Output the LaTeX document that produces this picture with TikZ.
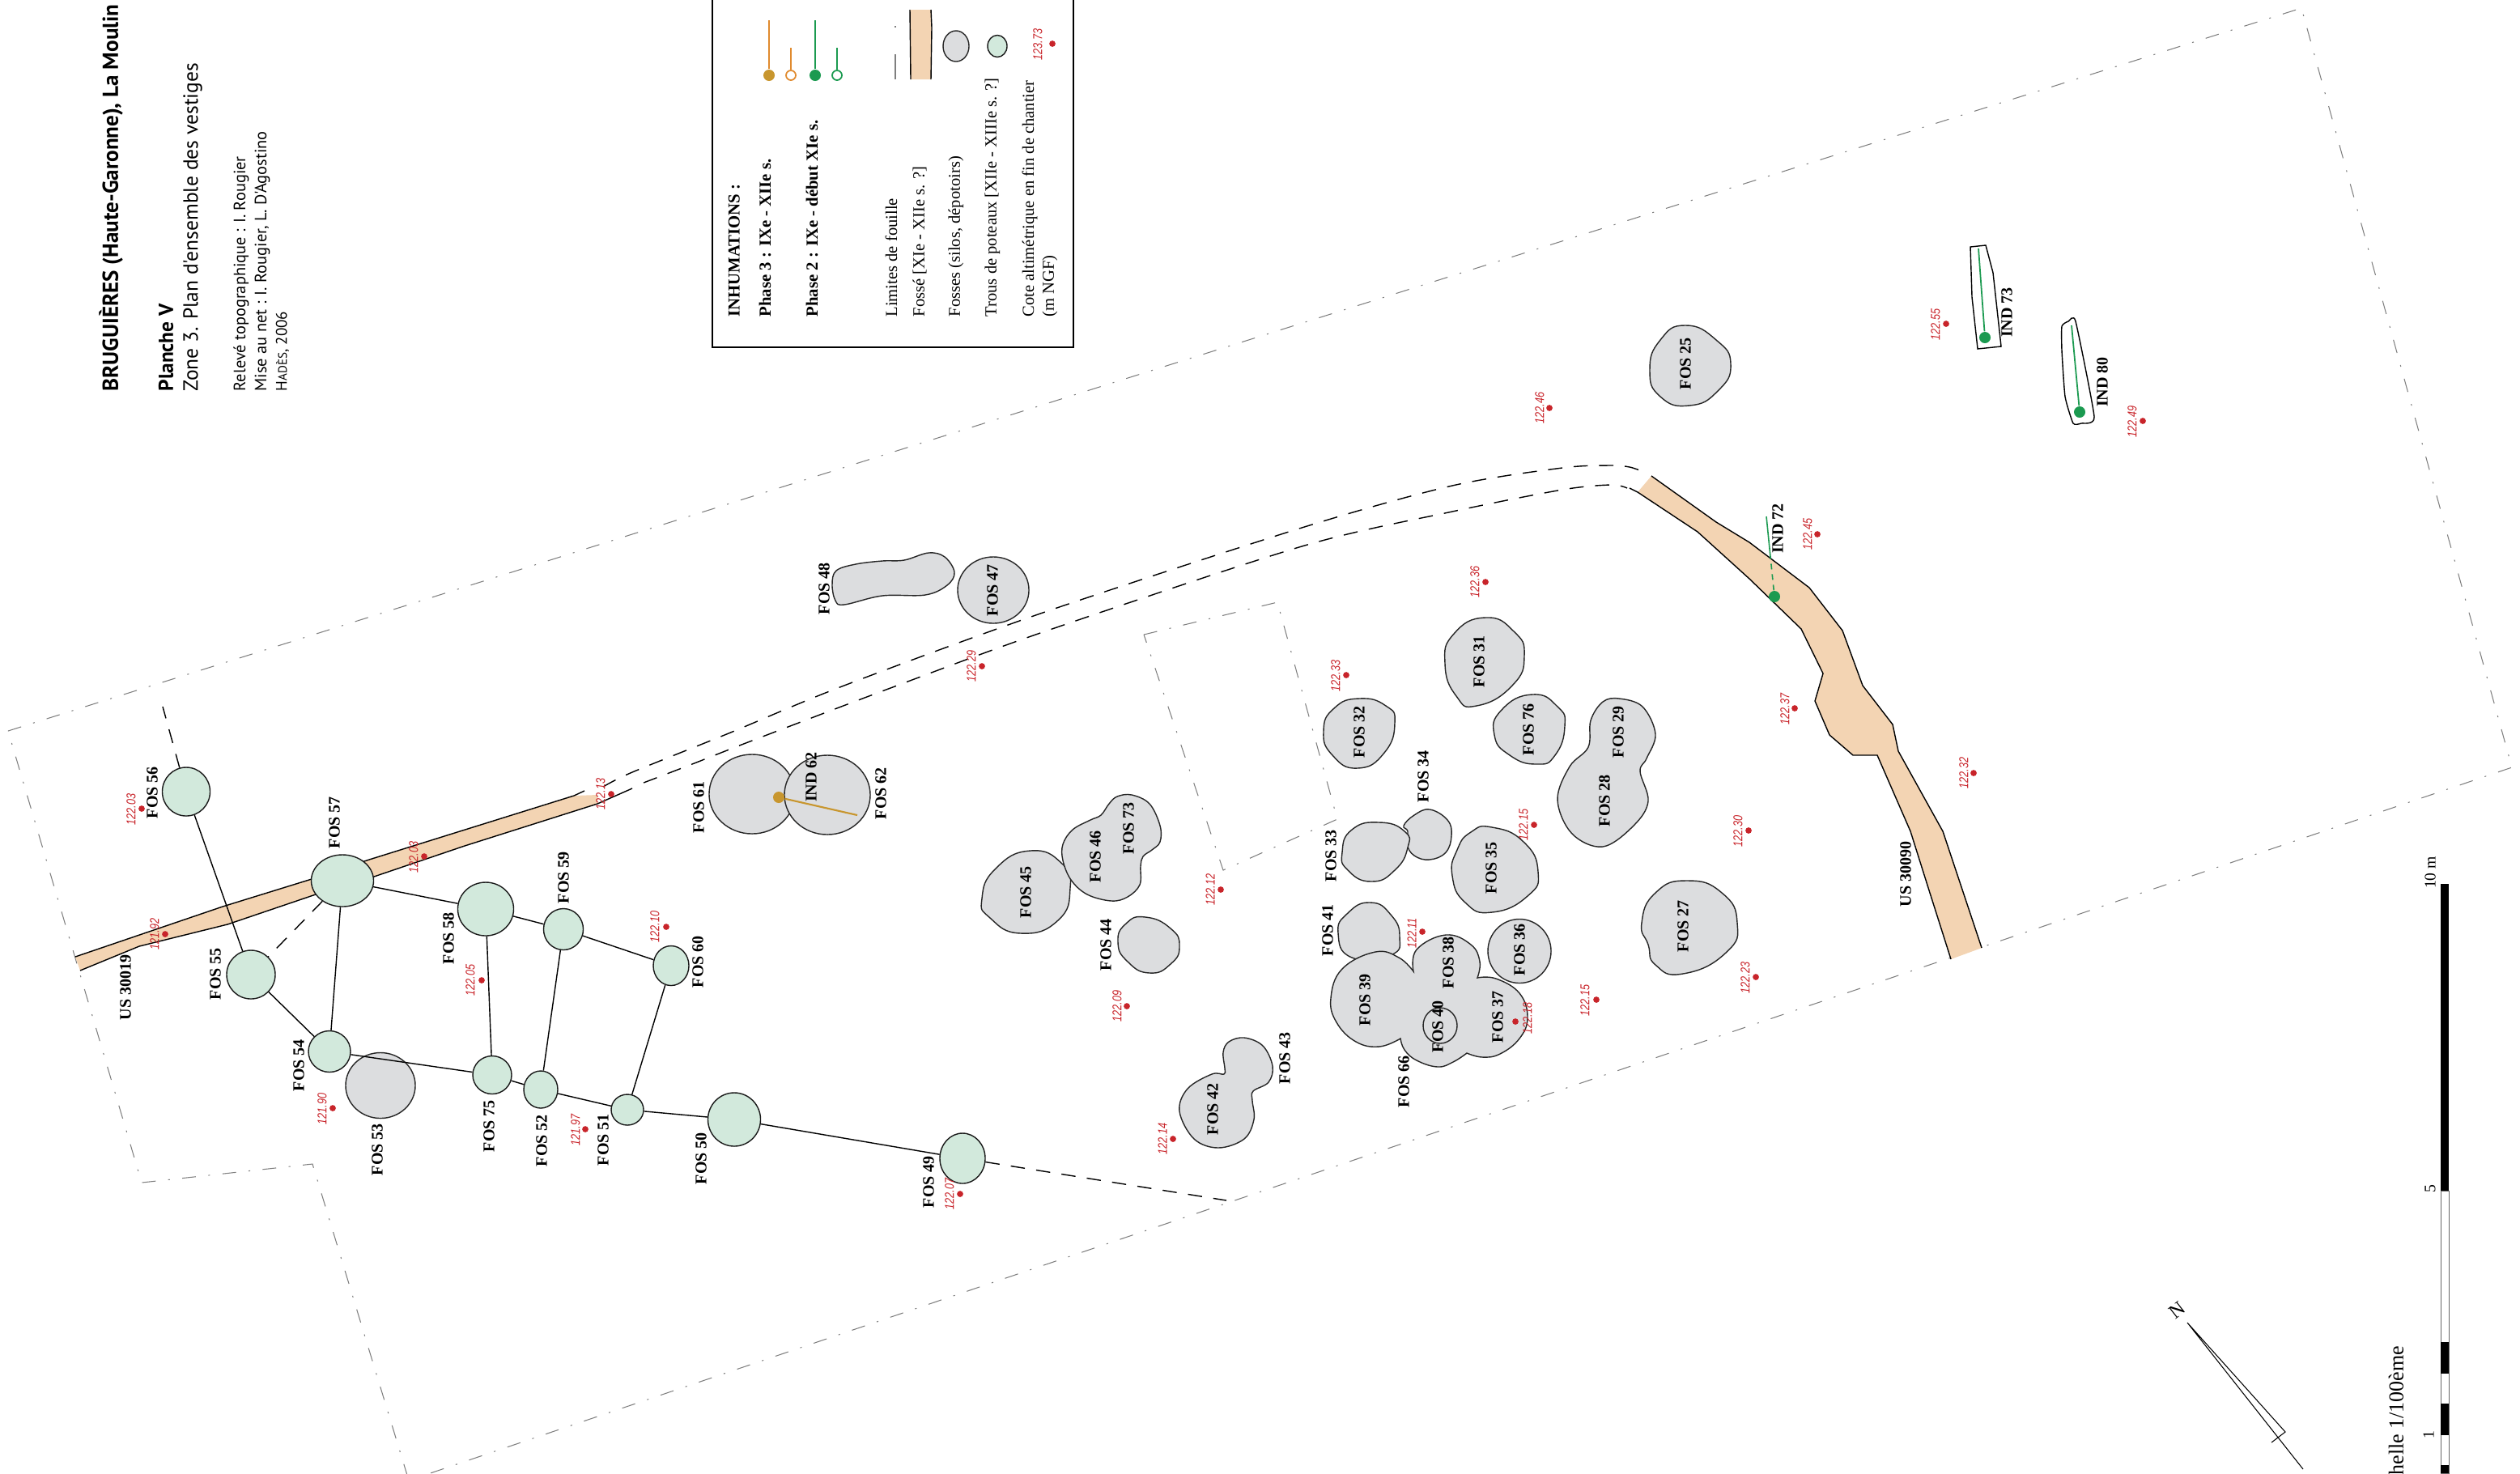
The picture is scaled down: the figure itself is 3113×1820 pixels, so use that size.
\documentclass[tikz,border=0pt]{standalone}
\usepackage{fontspec}
\setmainfont{Liberation Serif}
\newfontfamily\titlefont{PT Sans}
\newfontfamily\cotefont[FakeStretch=.8]{Liberation Sans}
\usepackage{tikz}
\usetikzlibrary{shapes.geometric}
\definecolor{pitgrey}{HTML}{DCDDDF}
\definecolor{postgreen}{HTML}{D2E9DC}
\definecolor{ditchtan}{HTML}{F3D4B3}
\definecolor{limgrey}{HTML}{7F7F7F}
\definecolor{cotered}{HTML}{C8242A}
\definecolor{phasegreen}{HTML}{1B9A50}
\definecolor{phasebrown}{HTML}{C8962E}
\definecolor{phaseorange}{HTML}{E08A2E}
\tikzset{pit/.style={draw=black!85,fill=pitgrey,line width=.4pt,tension=.9},
	post/.style={ellipse,draw=black!90,fill=postgreen,line width=.4pt,inner sep=0pt},
	pitnode/.style={ellipse,draw=black!85,fill=pitgrey,line width=.4pt,inner sep=0pt},
	trace/.style={draw=black,line width=.4pt},
	longdash/.style={draw=black,line width=.4pt,dash pattern=on 5pt off 4pt},
	limite/.style={draw=limgrey,line width=.3pt,dash pattern=on 4.8pt off 4.4pt on .6pt off 4.4pt},
	fosname/.style={rotate=90,inner sep=0pt,font=\fontsize{5.7}{6}\selectfont\bfseries},
	cotept/.style={circle,fill=cotered,inner sep=0pt,minimum size=2.2pt},
	cotetxt/.style={rotate=90,inner sep=0pt,text=cotered,font=\fontsize{4.5}{5}\selectfont\cotefont\itshape},
	legtxt/.style={rotate=90,anchor=west,inner sep=0pt,font=\fontsize{5.85}{6}\selectfont},
	legbold/.style={rotate=90,anchor=west,inner sep=0pt,font=\fontsize{5.9}{6}\selectfont\bfseries},
	headtxt/.style={rotate=90,anchor=west,inner sep=0pt,font=\titlefont}}

\begin{document}
\begin{tikzpicture}[x=0.01cm,y=-0.01cm]
		\useasboundingbox (0,0) rectangle (3113,1820);
		\clip (0,0) rectangle (3113,1820);
		% limites de fouille
		\draw [limite] (10,903) -- (2843,10) -- (3103,948) -- (505,1829) -- (386,1438) -- (175,1461) -- cycle;
		\draw [limite] (1413,784) -- (1578,744) -- (1652,1012) -- (1511,1075) -- cycle;
		% fosses
		\fill [ditchtan] (93,1182) -- (275,1120) -- (385,1086) -- (456,1062) -- (709,983) -- (738,982) -- (738,993) -- (574,1045) -- (462,1083) -- (390,1105) -- (281,1142) -- (172,1169) -- (99,1199) -- cycle;
		\draw [trace] (93,1182) -- (275,1120) -- (385,1086) -- (456,1062) -- (709,983) -- (722,977);
		\draw [trace] (99,1199) -- (172,1169) -- (281,1142) -- (390,1105) -- (462,1083) -- (574,1045) -- (738,993) -- (781,974);
		\draw [longdash] plot[smooth] coordinates {(745,972) (781,954) (900,906) (1040,848) (1288,757) (1608,652) (1794,600) (1930,578) (1990,575) (2013,577) (2028,582)};
		\draw [longdash] plot[smooth] coordinates {(795,967) (855,944) (929,915) (1100,850) (1288,781) (1608,675) (1794,632) (1930,605) (1990,599) (2010,603)};
		\fill [ditchtan] (2040,588) -- (2120,645) -- (2161,670) -- (2235,726) -- (2276,779) -- (2301,847) -- (2338,895) -- (2345,928) -- (2400,1027) -- (2448,1171) -- (2410,1185) -- (2383,1100) -- (2360,1027) -- (2319,933) -- (2289,933) -- (2260,908) -- (2242,866) -- (2252,832) -- (2225,777) -- (2161,715) -- (2097,657) -- (2023,608) -- cycle;
		\draw [trace] (2040,588) -- (2120,645) -- (2161,670) -- (2235,726) -- (2276,779) -- (2301,847) -- (2338,895) -- (2345,928) -- (2400,1027) -- (2448,1171);
		\draw [trace] (2013,603) -- (2023,608) -- (2097,657) -- (2161,715) -- (2225,777) -- (2252,832) -- (2242,866) -- (2260,908) -- (2289,933) -- (2319,933) -- (2360,1027) -- (2383,1100) -- (2410,1185);
		% fosses (silos)
		\draw [pit] plot[smooth cycle,tension=.6] coordinates {(1033,705) (1057,697) (1090,693) (1117,692) (1147,683) (1167,688) (1179,707) (1170,723) (1143,735) (1090,736) (1043,747) (1032,742) (1028,722)};
		\draw [pit] plot[smooth cycle] coordinates {(1273,1051) (1312,1067) (1322,1097) (1307,1137) (1261,1153) (1223,1134) (1213,1110) (1230,1073)};
		\draw [pit] plot[smooth cycle] coordinates {(1415,1133) (1446,1147) (1457,1169) (1446,1191) (1420,1202) (1393,1188) (1381,1164) (1391,1141)};
		\draw [pit] plot[smooth cycle,tension=.6] coordinates {(1398,982) (1420,993) (1433,1020) (1433,1040) (1423,1050) (1412,1058) (1409,1070) (1408,1093) (1393,1108) (1373,1113) (1343,1105) (1323,1087) (1313,1063) (1313,1043) (1325,1025) (1347,1013) (1360,1007) (1370,993) (1380,984)};
		\draw [pit] plot[smooth cycle,tension=.6] coordinates {(1537,1282) (1560,1292) (1572,1317) (1567,1337) (1548,1348) (1547,1360) (1549,1383) (1537,1407) (1505,1418) (1475,1407) (1457,1373) (1467,1345) (1497,1327) (1512,1327) (1513,1320) (1511,1300) (1518,1287)};
		\draw [pit] plot[smooth cycle,tension=.7] coordinates {(1766,1000) (1788,1013) (1793,1032) (1786,1053) (1766,1062) (1747,1057) (1738,1043) (1739,1027) (1734,1020) (1747,1007)};
		\draw [pit] plot[smooth cycle] coordinates {(1704,1016) (1735,1027) (1739,1047) (1723,1075) (1694,1089) (1665,1075) (1658,1053) (1670,1025)};
		\draw [pit] plot[smooth cycle] coordinates {(1843,1022) (1882,1040) (1900,1077) (1887,1107) (1843,1127) (1810,1115) (1794,1082) (1800,1050) (1817,1028)};
		\draw [pit] plot[smooth cycle] coordinates {(1693,1115) (1718,1130) (1729,1157) (1718,1180) (1670,1183) (1653,1153) (1665,1128)};
		\draw [pit,tension=.7] plot[smooth] coordinates {(1746,1200) (1750,1173) (1786,1155) (1817,1167) (1828,1188) (1825,1208)}
			-- plot[smooth] coordinates {(1825,1208) (1848,1209) (1877,1227) (1887,1257) (1877,1283) (1853,1302) (1831,1306) (1812,1301)}
			-- plot[smooth] coordinates {(1812,1301) (1795,1312) (1776,1318) (1750,1310) (1735,1297) (1730,1283)}
			-- plot[smooth] coordinates {(1730,1283) (1704,1293) (1675,1287) (1651,1263) (1644,1233) (1658,1197) (1699,1176) (1728,1183) (1746,1200)} -- cycle;
		\draw [pit] plot[smooth cycle] coordinates {(2084,1088) (2127,1103) (2146,1140) (2132,1177) (2079,1203) (2045,1192) (2036,1167) (2028,1140) (2045,1103)};
		\draw [pit,tension=.6] plot[smooth cycle] coordinates {(2000,863) (2029,873) (2045,907) (2034,937) (2026,953) (2036,990) (2018,1020) (1980,1046) (1942,1030) (1924,988) (1939,947) (1962,923) (1965,890) (1980,867)};
		\draw [pit] plot[smooth cycle] coordinates {(1835,763) (1870,780) (1883,810) (1868,847) (1824,872) (1799,860) (1785,820) (1796,783)};
		\draw [pit] plot[smooth cycle] coordinates {(1893,858) (1924,873) (1933,897) (1921,933) (1898,944) (1865,933) (1846,908) (1855,877)};
		\draw [pit] plot[smooth cycle] coordinates {(1679,863) (1712,872) (1723,893) (1710,930) (1677,949) (1646,933) (1635,903) (1648,875)};
		\draw [pit] plot[smooth cycle] coordinates {(2082,402) (2120,420) (2138,450) (2122,483) (2087,501) (2051,490) (2038,457) (2051,420)};
		\begin{scope}[every node/.style={pitnode}]
			\node [minimum width=.88cm,minimum height=.82cm] (F47) at (1227,729) {};
			\node [minimum width=1.06cm,minimum height=.98cm] (F61) at (929,981) {};
			\node [minimum width=1.06cm,minimum height=.98cm] (F62) at (1022,982) {};
			\node [minimum width=.78cm,minimum height=.79cm] (F36) at (1877,1175) {};
			\node [minimum width=.86cm,minimum height=.81cm] (F53) at (470,1341) {};
			\node [fill=none,minimum width=.42cm,minimum height=.44cm] (F40) at (1779,1267) {};
		\end{scope}
		% sepultures
		\draw [trace] (2434,305) -- (2453,303) -- (2462,337) -- (2472,428) -- (2443,431) -- (2436,367) -- cycle;
		\draw [trace] plot[smooth cycle,tension=.3] coordinates {(2547,403) (2555,397) (2564,397) (2587,515) (2571,523) (2561,523) (2551,490) (2547,433)};
		\begin{scope}[every node/.style={circle,inner sep=0pt,minimum size=.14cm}]
			\node [fill=phasebrown] (D62) at (962,985) {};
			\node [fill=phasegreen] (D72) at (2192,737) {};
			\node [fill=phasegreen] (D73) at (2452,417) {};
			\node [fill=phasegreen] (D80) at (2569,509) {};
		\end{scope}
		\coordinate (E62) at (1059,1007);
		\coordinate (M72) at (2187,688);
		\coordinate (E72) at (2182,638);
		\coordinate (E73) at (2444,307);
		\coordinate (E80) at (2559,402);
		\draw [phasebrown,line width=.6pt] (D62) -- (E62);
		\draw [phasegreen,line width=.45pt,dash pattern=on 2pt off 1.7pt] (D72) -- (M72);
		\draw [phasegreen,line width=.45pt] (M72) -- (E72);
		\draw [phasegreen,line width=.5pt] (D73) -- (E73);
		\draw [phasegreen,line width=.5pt] (D80) -- (E80);
		% trous de poteaux
		\begin{scope}[every node/.style={post}]
			\node [minimum width=.59cm,minimum height=.60cm] (F56) at (230,978) {};
			\node [minimum width=.77cm,minimum height=.64cm] (F57) at (423,1088) {};
			\node [minimum width=.60cm,minimum height=.60cm] (F55) at (310,1204) {};
			\node [minimum width=.69cm,minimum height=.66cm] (F58) at (600,1123) {};
			\node [minimum width=.49cm,minimum height=.51cm] (F59) at (696,1148) {};
			\node [minimum width=.44cm,minimum height=.49cm] (F60) at (829,1193) {};
			\node [minimum width=.52cm,minimum height=.51cm] (F54) at (407,1299) {};
			\node [minimum width=.48cm,minimum height=.47cm] (F75) at (608,1328) {};
			\node [minimum width=.42cm,minimum height=.46cm] (F52) at (668,1346) {};
			\node [minimum width=.40cm,minimum height=.38cm] (F51) at (775,1371) {};
			\node [minimum width=.65cm,minimum height=.66cm] (F50) at (907,1383) {};
			\node [minimum width=.56cm,minimum height=.62cm] (F49) at (1189,1431) {};
		\end{scope}
		\coordinate (L56) at (201,873);
		\coordinate (L49) at (1515,1483);
		\begin{scope}[every edge/.style={draw=black,line width=.4pt}]
			\path (F56) edge (F55);
			\path (F57) edge (F54);
			\path (F57) edge (F58);
			\path (F58) edge (F59);
			\path (F59) edge (F60);
			\path (F58) edge (F75);
			\path (F59) edge (F52);
			\path (F60) edge (F51);
			\path (F55) edge (F54);
			\path (F54) edge (F75);
			\path (F75) edge (F52);
			\path (F52) edge (F51);
			\path (F51) edge (F50);
			\path (F50) edge (F49);
		\end{scope}
		\draw [longdash] (F57) -- (F55);
		\draw [longdash] (F56) -- (L56);
		\draw [longdash] (F49) -- (L49);
		% noms
		\begin{scope}[every node/.style={fosname}]
			\node (N56) at (188,979) {FOS 56};
			\node (N57) at (413,1016) {FOS 57};
			\node (N55) at (266,1203) {FOS 55};
			\node (U19) at (155,1220) {US 30019};
			\node (N58) at (554,1159) {FOS 58};
			\node (N59) at (696,1084) {FOS 59};
			\node (N60) at (862,1188) {FOS 60};
			\node (N54) at (369,1316) {FOS 54};
			\node (N53) at (466,1420) {FOS 53};
			\node (N75) at (604,1391) {FOS 75};
			\node (N52) at (669,1409) {FOS 52};
			\node (N51) at (745,1408) {FOS 51};
			\node (N50) at (866,1431) {FOS 50};
			\node (N61) at (863,997) {FOS 61};
			\node (I62) at (1002,960) {IND 62};
			\node (N62) at (1088,980) {FOS 62};
			\node (N49) at (1147,1460) {FOS 49};
			\node (N48) at (1018,727) {FOS 48};
			\node (N47) at (1226,729) {FOS 47};
			\node (N45) at (1267,1102) {FOS 45};
			\node (N46) at (1353,1058) {FOS 46};
			\node (N73) at (1394,1023) {FOS 73};
			\node (N44) at (1366,1167) {FOS 44};
			\node (N43) at (1587,1307) {FOS 43};
			\node (N42) at (1498,1370) {FOS 42};
			\node (N33) at (1644,1057) {FOS 33};
			\node (N34) at (1758,959) {FOS 34};
			\node (N35) at (1842,1072) {FOS 35};
			\node (N41) at (1640,1149) {FOS 41};
			\node (N38) at (1789,1189) {FOS 38};
			\node (N36) at (1877,1173) {FOS 36};
			\node (N39) at (1686,1235) {FOS 39};
			\node (N40) at (1776,1268) {FOS 40};
			\node (N37) at (1850,1256) {FOS 37};
			\node (N66) at (1734,1336) {FOS 66};
			\node (N27) at (2079,1144) {FOS 27};
			\node (N28) at (1982,989) {FOS 28};
			\node (N31) at (1827,817) {FOS 31};
			\node (N76) at (1888,901) {FOS 76};
			\node (N29) at (1999,904) {FOS 29};
			\node (N32) at (1679,904) {FOS 32};
			\node (N25) at (2082,449) {FOS 25};
			\node (I73) at (2479,386) {IND 73};
			\node (I80) at (2597,472) {IND 80};
			\node (I72) at (2196,653) {IND 72};
			\node (U90) at (2354,1080) {US 30090};
		\end{scope}
		% cotes
		\node [cotept] (P1) at (175,999) {};
		\node [cotetxt] (T1) at (162,1000) {122.03};
		\node [cotept] (P2) at (204,1154) {};
		\node [cotetxt] (T2) at (191,1154) {121.92};
		\node [cotept] (P3) at (524,1058) {};
		\node [cotetxt] (T3) at (511,1059) {122.03};
		\node [cotept] (P4) at (755,981) {};
		\node [cotetxt] (T4) at (742,981) {122.13};
		\node [cotept] (P5) at (595,1211) {};
		\node [cotetxt] (T5) at (581,1211) {122.05};
		\node [cotept] (P6) at (823,1145) {};
		\node [cotetxt] (T6) at (809,1145) {122.10};
		\node [cotept] (P7) at (411,1369) {};
		\node [cotetxt] (T7) at (398,1370) {121.90};
		\node [cotept] (P8) at (723,1395) {};
		\node [cotetxt] (T8) at (711,1396) {121.97};
		\node [cotept] (P9) at (1186,1475) {};
		\node [cotetxt] (T9) at (1173,1475) {122.07};
		\node [cotept] (P10) at (1449,1407) {};
		\node [cotetxt] (T10) at (1436,1407) {122.14};
		\node [cotept] (P11) at (1392,1243) {};
		\node [cotetxt] (T11) at (1380,1243) {122.09};
		\node [cotept] (P12) at (1508,1099) {};
		\node [cotetxt] (T12) at (1495,1099) {122.12};
		\node [cotept] (P13) at (1895,1019) {};
		\node [cotetxt] (T13) at (1882,1019) {122.15};
		\node [cotept] (P14) at (2160,1026) {};
		\node [cotetxt] (T14) at (2147,1027) {122.30};
		\node [cotept] (P15) at (1757,1151) {};
		\node [cotetxt] (T15) at (1744,1153) {122.11};
		\node [cotept] (P16) at (1872,1262) {};
		\node [cotetxt] (T16) at (1887,1258) {122.18};
		\node [cotept] (P17) at (1972,1235) {};
		\node [cotetxt] (T17) at (1958,1236) {122.15};
		\node [cotept] (P18) at (2169,1207) {};
		\node [cotetxt] (T18) at (2156,1208) {122.23};
		\node [cotept] (P19) at (1835,719) {};
		\node [cotetxt] (T19) at (1822,719) {122.36};
		\node [cotept] (P20) at (1663,834) {};
		\node [cotetxt] (T20) at (1650,835) {122.33};
		\node [cotept] (P21) at (2217,875) {};
		\node [cotetxt] (T21) at (2205,876) {122.37};
		\node [cotept] (P22) at (2245,660) {};
		\node [cotetxt] (T22) at (2233,660) {122.45};
		\node [cotept] (P23) at (2404,400) {};
		\node [cotetxt] (T23) at (2391,401) {122.55};
		\node [cotept] (P24) at (2647,520) {};
		\node [cotetxt] (T24) at (2634,521) {122.49};
		\node [cotept] (P25) at (1914,504) {};
		\node [cotetxt] (T25) at (1902,504) {122.46};
		\node [cotept] (P26) at (2438,955) {};
		\node [cotetxt] (T26) at (2426,955) {122.32};
		\node [cotept] (P27) at (1213,823) {};
		\node [cotetxt] (T27) at (1200,823) {122.29};
		% legende
		\draw [line width=.4pt] (880,-10) -- (880,429);
		\draw [line width=.4pt] (1326,-10) -- (1326,429);
		\draw [line width=.7pt] (879,429) -- (1327,429);
		\node [legbold] (H1) at (907,392) {INHUMATIONS :};
		\node [legbold] (H2) at (945,392) {Phase 3 : IXe - XIIe s.};
		\node [legbold] (H3) at (1003,392) {Phase 2 : IXe - début XIe s.};
		\node [legtxt] (H4) at (1101,392) {Limites de fouille};
		\node [legtxt] (H5) at (1136,392) {Fossé [XIe - XIIe s. ?]};
		\node [legtxt] (H6) at (1181,392) {Fosses (silos, dépotoirs)};
		\node [legtxt] (H7) at (1226,392) {Trous de poteaux [XIIe - XIIIe s. ?]};
		\node [legtxt] (H8) at (1272,392) {Cote altimétrique en fin de chantier};
		\node [legtxt] (H9) at (1297,392) {(m NGF)};
		\node [circle,fill=phasebrown,inner sep=0pt,minimum size=.14cm] (K1) at (950,93) {};
		\node [circle,draw=phaseorange,fill=white,line width=.5pt,inner sep=0pt,minimum size=.12cm] (K2) at (977,93) {};
		\node [circle,fill=phasegreen,inner sep=0pt,minimum size=.14cm] (K3) at (1007,93) {};
		\node [circle,draw=phasegreen,fill=white,line width=.5pt,inner sep=0pt,minimum size=.12cm] (K4) at (1034,93) {};
		\coordinate (K1a) at (950,25);
		\coordinate (K2a) at (977,59);
		\coordinate (K3a) at (1007,25);
		\coordinate (K4a) at (1034,59);
		\draw [phaseorange,line width=.4pt] (K1) -- (K1a);
		\draw [phaseorange,line width=.4pt] (K2) -- (K2a);
		\draw [phasegreen,line width=.4pt] (K3) -- (K3a);
		\draw [phasegreen,line width=.4pt] (K4) -- (K4a);
		\draw [limgrey,line width=.35pt] (1106,98) -- (1106,67) (1106,34) -- (1106,32);
		\fill [ditchtan] (1124,12) -- (1150,12) -- (1151,34) -- (1150,98) -- (1125,98) -- cycle;
		\draw [trace] (1124,12) -- (1125,98) (1150,12) -- (1151,34) -- (1150,98);
		\node [pitnode,minimum width=.32cm,minimum height=.38cm] (K5) at (1181,57) {};
		\node [post,minimum width=.24cm,minimum height=.27cm] (K6) at (1232,57) {};
		\node [cotept] (K7) at (1300,54) {};
		\node [cotetxt] (K8) at (1282,55) {123.73};
		% titre
		\node [headtxt,font=\titlefont\bfseries\fontsize{7.7}{8}\selectfont] (A1) at (137,484) {BRUGUIÈRES (Haute-Garonne), La Moulin};
		\node [headtxt,font=\titlefont\bfseries\fontsize{7.2}{8}\selectfont] (A2) at (205,484) {Planche V};
		\node [headtxt,font=\titlefont\fontsize{7.25}{8}\selectfont] (A3) at (238,484) {Zone 3. Plan d'ensemble des vestiges};
		\node [headtxt,font=\titlefont\fontsize{5.8}{6}\selectfont] (A4) at (298,484) {Relevé topographique : I. Rougier};
		\node [headtxt,font=\titlefont\fontsize{5.8}{6}\selectfont] (A5) at (324,484) {Mise au net : I. Rougier, L. D'Agostino};
		\node [headtxt,font=\titlefont\fontsize{5.4}{6}\selectfont] (A6) at (349,484) {H{\fontsize{4.3}{5}\selectfont ADÈS}, 2006};
		% echelle
		\draw [black!60,line width=.3pt] (3015,1471) rectangle (3025,1820);
		\fill [black] (3015,1092) rectangle (3025,1471);
		\fill [black] (3015,1658) rectangle (3025,1697);
		\fill [black] (3015,1734) rectangle (3025,1773);
		\fill [black] (3015,1810) rectangle (3025,1820);
		\node [rotate=90,inner sep=0pt,font=\fontsize{5.6}{6}\selectfont] (S10) at (3002,1078) {10 m};
		\node [rotate=90,inner sep=0pt,font=\fontsize{5.6}{6}\selectfont] (S5) at (3002,1469) {5};
		\node [rotate=90,inner sep=0pt,font=\fontsize{5.6}{6}\selectfont] (S1) at (3000,1773) {1};
		\node [rotate=90,anchor=east,inner sep=0pt,font=\fontsize{7.4}{8}\selectfont] (S0) at (2960,1662) {helle 1/100ème};
		% nord
		\coordinate (NA) at (2702,1634);
		\coordinate (NB) at (2845,1815);
		\coordinate (NC) at (2823,1769);
		\coordinate (ND) at (2806,1782);
		\draw [line width=.3pt] (NB) -- (NA) -- (NC) -- (ND);
		\node [rotate=38,inner sep=0pt,font=\fontsize{7}{8}\selectfont] (N0) at (2689,1619) {N};
	\end{tikzpicture}
\end{document}
